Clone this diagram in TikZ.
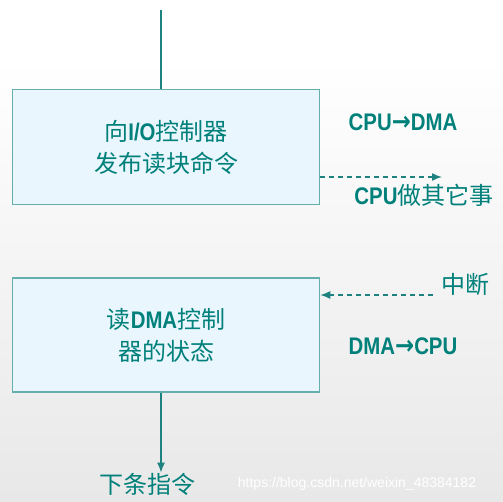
\documentclass[tikz,border=0pt]{standalone}
\usepackage{fontspec}
\usepackage{graphicx}
\setmainfont{Noto Sans CJK SC}
\newfontfamily\latfont{Liberation Sans}
\newfontfamily\symfont{DejaVu Sans}
\usetikzlibrary{arrows.meta}
\definecolor{tealtext}{RGB}{0,128,122}
\definecolor{tealline}{RGB}{30,130,128}
\definecolor{boxedge}{RGB}{100,175,172}
\definecolor{boxfill}{RGB}{234,246,254}
\newcommand\latn[1]{{\latfont\bfseries\scalebox{0.85}[1]{#1}}}
\newcommand\toarr{{\symfont\bfseries\scalebox{0.95}[1.1]{→}}}
\tikzset{
  stepbox/.style={draw=boxedge, fill=boxfill, line width=1.5pt, minimum width=307pt,
    minimum height=115pt, inner sep=0pt, align=center, text=tealtext,
    font=\fontsize{24}{32}\selectfont},
  lab/.style={text=tealtext, inner sep=0pt, font=\fontsize{24}{28}\selectfont},
  link/.style={draw=tealline, line width=1.5pt},
  dashlink/.style={link, dashed, dash pattern=on 5pt off 4pt}
}
\begin{document}
\begin{tikzpicture}[x=1pt,y=-1pt,>={Latex[length=10pt,width=8pt]}]
    \useasboundingbox (0,0) rectangle (503,501);
    \shade[top color=white, bottom color={rgb,255:red,232;green,232;blue,232}] (0,60) rectangle (503,501);
    \fill[white] (0,0) rectangle (503,60);
    % the two steps
    \node[stepbox] (cmd) at (166,147) {向\latn{I/O}控制器\\发布读块命令};
    \node[stepbox, minimum height=114pt] (stat) at (166,335) {读\latn{DMA}控制\\器的状态};
    \coordinate (start) at (161,10);
    \draw[link] (start) -- (start |- cmd.north);
    % side notes
    \node[lab] (c2d) at (403,122) {\latn{CPU}\toarr\latn{DMA}};
    \node[lab] (busy) at (424,195) {\latn{CPU}做其它事};
    \coordinate (busyend) at (442,177);
    \draw[dashlink,->] (cmd.east |- busyend) -- (busyend);
    \node[lab] (irq) at (465,284) {中断};
    \coordinate (irqstart) at (433,295);
    \draw[dashlink,->] (irqstart) -- (stat.east |- irqstart);
    \node[lab] (d2c) at (403,346) {\latn{DMA}\toarr\latn{CPU}};
    % next instruction
    \node[lab] (next) at (147,484) {下条指令};
    \draw[link,->] (stat.south -| start) -- (start |- next.north);
    \node[text=white, inner sep=0pt, font=\latfont\fontsize{14}{16}\selectfont] (wmk) at (357,484) {https://blog.csdn.net/weixin\_48384182};
\end{tikzpicture}
\end{document}
